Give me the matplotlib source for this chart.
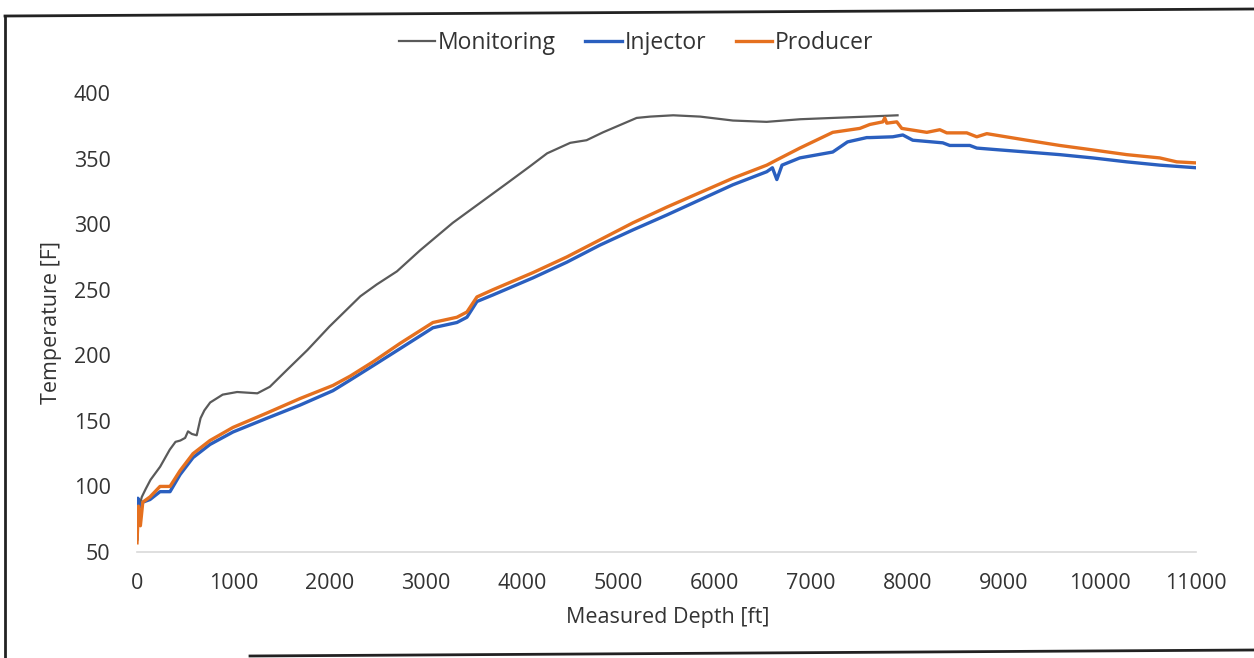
import matplotlib
matplotlib.use("Agg")
import matplotlib.pyplot as plt
from matplotlib.lines import Line2D

# ---- data ----
mon_depth = [0, 20, 50, 90, 140, 240, 340, 400, 450, 500, 530, 570, 620, 660, 700, 760,
             890, 1040, 1250, 1380, 1560, 1770, 2000, 2320, 2490, 2700, 2940, 3280, 3560,
             3840, 4080, 4260, 4500, 4670, 4840, 5190, 5330, 5570, 5850, 6190, 6540, 6890,
             7230, 7580, 7900]
mon_temp = [91, 84, 92, 98, 105, 115, 128, 134, 135, 137, 142, 140, 139, 152, 158, 164,
            170, 172, 171, 176, 189, 204, 222, 245, 254, 264, 280, 301, 316,
            331, 344, 354, 362, 364, 370, 381, 382, 383, 382, 379, 378, 380,
            381, 382, 383]

inj_depth = [0, 10, 25, 60, 135, 239, 343, 447, 582, 758, 997, 1350, 1693, 2035, 2212, 2451,
             2731, 3074, 3323, 3427, 3531, 3697, 4112, 4465, 4808, 5151, 5504, 5846, 6189,
             6542, 6600, 6646, 6700, 6885, 7227, 7380, 7580, 7612, 7850, 7955, 8058, 8370,
             8442, 8650, 8723, 8962, 9242, 9585, 9927, 10280, 10623, 11000]
inj_temp = [60, 91, 84, 88, 90, 96, 96, 109, 122, 132, 141.5, 152, 162, 173, 181, 192,
            205, 221, 225, 229, 241, 246, 259, 271, 284, 295.6, 307, 318.5, 330,
            340, 343, 334, 345, 350.5, 355, 362.7, 366, 366, 366.6, 368, 364, 362,
            360, 360, 358, 356.6, 355, 353, 350.5, 347.5, 345, 343]

prod_depth = [0, 15, 35, 60, 135, 239, 343, 447, 582, 758, 997, 1350, 1693, 2035, 2212, 2451,
              2731, 3074, 3323, 3427, 3531, 3697, 4112, 4465, 4808, 5151, 5504, 5846, 6189,
              6542, 6646, 6885, 7227, 7508, 7612, 7747, 7767, 7788, 7892, 7944, 8204, 8339,
              8411, 8619, 8723, 8827, 9242, 9585, 9927, 10280, 10623, 10800, 11000]
prod_temp = [57, 85, 70, 88, 92, 100, 100, 112, 125, 135, 145, 156, 167, 177, 184, 195,
             209, 225, 229, 233, 244.5, 250, 263, 275, 288, 301, 313, 324, 335,
             345, 349, 358, 370, 373, 376, 378, 381, 377, 378, 373, 370, 372,
             369.6, 369.6, 366.6, 369, 364, 360, 356.6, 353, 350.5, 347.5, 346.7]

x_ticks = [0, 1000, 2000, 3000, 4000, 5000, 6000, 7000, 8000, 9000, 10000, 11000]
y_ticks = [50, 100, 150, 200, 250, 300, 350, 400]

plt.rcParams['font.family'] = ['Open Sans', 'DejaVu Sans']

W, H = 1254, 658
fig = plt.figure(figsize=(W / 100, H / 100), dpi=100)
ax = fig.add_axes([137 / W, 1 - 552 / H, (1196 - 137) / W, (552 - 93) / H])

c_mon, c_inj, c_prod = '#5a5a5a', '#2a5fbf', '#e5701f'
ax.plot(mon_depth, mon_temp, color=c_mon, lw=1.6, label='Monitoring')
ax.plot(inj_depth, inj_temp, color=c_inj, lw=2.4, label='Injector')
ax.plot(prod_depth, prod_temp, color=c_prod, lw=2.4, label='Producer')

ax.set_xlim(0, 11000)
ax.set_ylim(50, 400)
ax.set_xticks(x_ticks)
ax.set_yticks(y_ticks)
ax.tick_params(axis='both', length=0, labelsize=15.5, labelcolor='#333333')
ax.tick_params(axis='y', pad=19)
ax.tick_params(axis='x', pad=15)

for s in ['top', 'right', 'left']:
    ax.spines[s].set_visible(False)
ax.spines['bottom'].set_color('#d9d9d9')
ax.spines['bottom'].set_linewidth(1.2)

ax.set_xlabel('Measured Depth [ft]', fontsize=15.5, color='#333333')
ax.set_ylabel('Temperature [F]', fontsize=15.5, color='#333333')
ax.xaxis.set_label_coords((668 - 137) / (1196 - 137), (552 - 607) / (552 - 93))
ax.yaxis.set_label_coords((62 - 137) / (1196 - 137), 0.5)

fig.legend(loc='center', bbox_to_anchor=(636 / W, 1 - 43 / H), ncol=3, frameon=False,
           fontsize=16.5, handlelength=1.6, handletextpad=0.1, columnspacing=1.3,
           labelcolor='#333333')

# outer chart border
fig.add_artist(Line2D([5 / W, 1], [1 - 16 / H, 1 - 9 / H], color='#222222', lw=2, transform=fig.transFigure))
fig.add_artist(Line2D([5 / W, 5 / W], [1 - 16 / H, 0], color='#222222', lw=2, transform=fig.transFigure))
fig.add_artist(Line2D([250 / W, 1], [1 - 656 / H, 1 - 650 / H], color='#222222', lw=2, transform=fig.transFigure))

fig.savefig('out.png', dpi=100)
